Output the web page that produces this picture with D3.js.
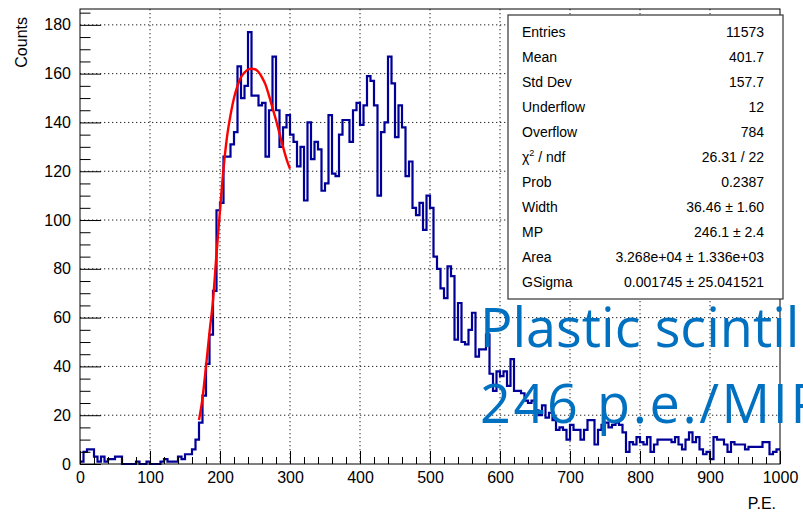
<!DOCTYPE html>
<html>
<head>
<meta charset="utf-8">
<script src="https://cdn.jsdelivr.net/npm/d3@7"></script>
<style>
  body { margin: 0; background: #fff; }
  text { font-family: "Liberation Sans", Arial, Helvetica, sans-serif; }
</style>
</head>
<body>
<div id="chart"></div>
<script>
// histogram: 200 bins of 5 P.E. from 0 to 1000
const xMin = 0, xMax = 1000;
const counts = [
    1, 5, 6, 6, 3, 1, 3, 1, 2, 2,
    3, 3, 0, 0, 0, 0, 1, 0, 0, 1,
    0, 0, 0, 1, 2, 1, 1, 1, 3, 2,
    4, 4, 6, 10, 17, 28, 41, 53, 71, 104,
    107, 126, 126, 131, 136, 163, 150, 155, 177, 151,
    151, 147, 148, 126, 145, 167, 145, 130, 138, 143,
    135, 132, 122, 130, 108, 140, 125, 132, 129, 112,
    115, 143, 119, 118, 135, 141, 141, 132, 145, 148,
    139, 147, 159, 157, 147, 110, 136, 140, 167, 156,
    134, 147, 138, 118, 124, 105, 102, 107, 96, 110,
    105, 85, 80, 72, 68, 81, 77, 51, 66, 50,
    49, 55, 62, 44, 47, 47, 53, 37, 30, 38,
    36, 38, 32, 43, 30, 30, 29, 26, 25, 26,
    22, 20, 24, 19, 21, 18, 14, 15, 14, 10,
    16, 14, 14, 10, 14, 18, 18, 8, 14, 16,
    17, 15, 16, 17, 16, 13, 5, 9, 8, 11,
    9, 8, 11, 5, 8, 10, 10, 10, 10, 9,
    11, 8, 6, 10, 13, 9, 11, 6, 4, 5,
    2, 11, 10, 10, 8, 5, 9, 8, 8, 8,
    6, 7, 7, 7, 7, 9, 9, 4, 5, 6
];

// fit curve
const fitX = [170, 175, 180, 185, 190, 195, 200, 205, 210, 215, 220, 225, 230, 235,
              240, 245, 250, 255, 260, 265, 270, 275, 280, 285, 290, 295, 300];
const fitY = [18, 27, 40, 54, 67, 86, 104, 121, 134, 143, 150, 155, 158.5, 160.5,
              161.7, 162, 161.8, 160.7, 158.5, 155.5, 151, 146, 141, 135.5, 130, 125, 121];

const xTicks = [0, 100, 200, 300, 400, 500, 600, 700, 800, 900, 1000];
const yTicks = [0, 20, 40, 60, 80, 100, 120, 140, 160, 180];

const statLabels = ["Entries", "Mean", "Std Dev", "Underflow", "Overflow", "χ2 / ndf",
                    "Prob", "Width", "MP", "Area", "GSigma"];
const statValues = ["11573", "401.7", "157.7", "12", "784", "26.31 / 22", "0.2387",
                    "36.46 ± 1.60", "246.1 ± 2.4", "3.268e+04 ± 1.336e+03", "0.001745 ± 25.041521"];

const noteLines = ["Plastic scintillator", "246 p.e./MIP"];

function drawHisto(parentId) {
    const W = 803, H = 512;
    const margin = {top: 9, right: 23, bottom: 48, left: 80};
    const width = W - margin.left - margin.right,
          height = H - margin.top - margin.bottom;

    const svg = d3.select("#" + parentId).append("svg")
        .attr("width", W)
        .attr("height", H);

    const g = svg.append("g")
        .attr("transform", `translate(${margin.left},${margin.top})`);

    const x = d3.scaleLinear().domain([xMin, xMax]).range([0, width]);
    const y = d3.scaleLinear().domain([0, 186.5]).range([height, 0]);

    // dotted grid
    g.append("g")
        .selectAll("line")
        .data(xTicks.slice(1, -1))
        .join("line")
        .attr("x1", d => x(d)).attr("x2", d => x(d))
        .attr("y1", 0).attr("y2", height)
        .attr("stroke", "#222").attr("stroke-width", 1)
        .attr("stroke-dasharray", "1.3,2.7");
    g.append("g")
        .selectAll("line")
        .data(yTicks.slice(1))
        .join("line")
        .attr("x1", 0).attr("x2", width)
        .attr("y1", d => y(d)).attr("y2", d => y(d))
        .attr("stroke", "#222").attr("stroke-width", 1)
        .attr("stroke-dasharray", "1.3,2.7");

    // histogram outline
    const bw = (xMax - xMin) / counts.length;
    const pts = counts.map((c, i) => [xMin + i * bw, c]);
    pts.push([xMax, counts[counts.length - 1]]);
    g.append("path")
        .datum(pts)
        .attr("fill", "none")
        .attr("stroke", "#000099")
        .attr("stroke-width", 2.2)
        .attr("d", d3.line()
            .x(d => x(d[0]))
            .y(d => y(d[1]))
            .curve(d3.curveStepAfter));

    // fit
    g.append("path")
        .datum(fitX.map((v, i) => [v, fitY[i]]))
        .attr("fill", "none")
        .attr("stroke", "#ff0000")
        .attr("stroke-width", 2.4)
        .attr("d", d3.line()
            .x(d => x(d[0]))
            .y(d => y(d[1]))
            .curve(d3.curveMonotoneX));

    // axes, ticks inside the frame like ROOT
    const xMinor = d3.range(xMin, xMax + 1, 20).filter(v => v % 100 !== 0);
    const yMinor = d3.range(0, 186, 5).filter(v => v % 20 !== 0);

    g.append("g")
        .attr("transform", `translate(0,${height})`)
        .call(d3.axisBottom(x).tickValues(xMinor).tickSize(-7).tickFormat(""))
        .call(a => a.select(".domain").remove());
    g.append("g")
        .attr("transform", `translate(0,${height})`)
        .call(d3.axisBottom(x).tickValues(xTicks).tickSize(-13).tickPadding(8).tickFormat(d3.format("d")))
        .call(a => a.select(".domain").remove())
        .call(a => a.selectAll("text").style("font-size", "16px").attr("fill", "#000"));

    g.append("g")
        .call(d3.axisLeft(y).tickValues(yMinor).tickSize(-10.5).tickFormat(""))
        .call(a => a.select(".domain").remove());
    g.append("g")
        .call(d3.axisLeft(y).tickValues(yTicks).tickSize(-21).tickPadding(9))
        .call(a => a.select(".domain").remove())
        .call(a => a.selectAll("text").style("font-size", "16px").attr("fill", "#000"));

    // frame
    g.append("rect")
        .attr("x", 0).attr("y", 0)
        .attr("width", width).attr("height", height)
        .attr("fill", "none")
        .attr("stroke", "#000").attr("stroke-width", 1);

    // axis titles
    svg.append("text")
        .attr("transform", "translate(27,17) rotate(-90)")
        .attr("text-anchor", "end")
        .style("font-size", "16px")
        .text("Counts");
    svg.append("text")
        .attr("x", 776).attr("y", 509)
        .attr("text-anchor", "end")
        .style("font-size", "16px")
        .text("P.E.");

    // stats box
    const box = svg.append("g").attr("transform", "translate(508,15)");
    box.append("rect")
        .attr("width", 275).attr("height", 284)
        .attr("fill", "#fff")
        .attr("stroke", "#333").attr("stroke-width", 1.2);

    statLabels.forEach((d, i) => {
        const t = box.append("text")
            .attr("x", 14)
            .attr("y", 21.7 + 25 * i)
            .style("font-size", "14px");
        if (d.startsWith("χ2")) {
            t.append("tspan").text("χ");
            t.append("tspan").attr("dy", -6).style("font-size", "9px").text("2");
            t.append("tspan").attr("dy", 6).text(" / ndf");
        } else {
            t.text(d);
        }
        box.append("text")
            .attr("x", 256)
            .attr("y", 21.7 + 25 * i)
            .attr("text-anchor", "end")
            .style("font-size", "14px")
            .text(statValues[i]);
    });

    // slide annotation on top (runs past the right edge, as in the slide)
    noteLines.forEach((d, i) => {
        svg.append("text")
            .attr("x", 480)
            .attr("y", 347 + 76 * i)
            .style("font-family", "'Open Sans', 'Noto Sans', sans-serif")
            .style("font-size", "54px")
            .style("letter-spacing", i === 1 ? "2.6px" : "0px")
            .attr("fill", "#0070c0")
            .text(d);
    });
}

drawHisto("chart");
</script>
</body>
</html>
